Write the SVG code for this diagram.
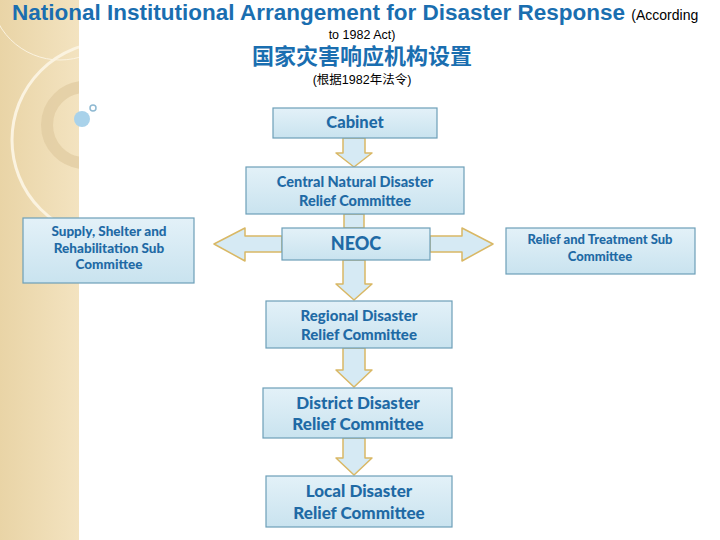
<svg xmlns="http://www.w3.org/2000/svg" width="720" height="540" viewBox="0 0 720 540">
<defs>
<linearGradient id="bx" x1="0" y1="0" x2="0" y2="1"><stop offset="0" stop-color="#e3f1f8"/><stop offset="1" stop-color="#c9e3ef"/></linearGradient>
<linearGradient id="side" x1="0" y1="0" x2="1" y2="0"><stop offset="0" stop-color="#e9d4a6"/><stop offset="1" stop-color="#f3e3c0"/></linearGradient>
<clipPath id="sc"><rect x="0" y="0" width="79" height="540"/></clipPath>
</defs>
<style>
.box{fill:url(#bx);stroke:#6d9fb8;stroke-width:1.2}
.arr{fill:#d6eaf4;stroke:#d9b865;stroke-width:1.5;stroke-linejoin:round}
.t{font-family:Lato,"Open Sans",sans-serif;font-weight:900;fill:#1f6aa5;text-anchor:middle}
</style>
<rect width="720" height="540" fill="#fff"/>
<rect x="0" y="0" width="79" height="540" fill="url(#side)"/>
<g clip-path="url(#sc)">
<circle cx="60" cy="-10" r="70" fill="none" stroke="#fbf3e0" stroke-width="1"/>
<circle cx="110" cy="140" r="98" fill="none" stroke="#fbf3e0" stroke-width="3"/>
<circle cx="85" cy="125" r="38" fill="none" stroke="#e0cba0" stroke-width="12" opacity="0.7"/>
</g>
<circle cx="82" cy="119" r="8" fill="#a9d2ea"/>
<circle cx="93" cy="108" r="3" fill="none" stroke="#8fb9d2" stroke-width="1.5"/>
<g id="title">
<text x="12" y="20" font-family="Liberation Sans,Arial,sans-serif" font-size="22.5" font-weight="bold" fill="#1a6eb0">National Institutional Arrangement for Disaster Response <tspan font-size="14" font-weight="normal" fill="#000">(According</tspan></text>
<text x="362" y="39" font-family="Liberation Sans,Arial,sans-serif" font-size="12.5" fill="#000" text-anchor="middle">to 1982 Act)</text>
<text x="362" y="64" font-family="'Noto Sans CJK SC',sans-serif" font-size="22" font-weight="bold" fill="#1a6eb0" text-anchor="middle">国家灾害响应机构设置</text>
<text x="362" y="84" font-family="Liberation Sans,'Noto Sans CJK SC',sans-serif" font-size="12.5" fill="#000" text-anchor="middle">(根据1982年法令)</text>
</g>
<g id="connectors">
<path class="arr" d="M343 138V153H336L354 167L372 153H365V138Z"/>
<path class="arr" d="M344 214V228H364V214Z"/>
<path class="arr" d="M282 236H245V228L214 244L245 261V252H282Z"/>
<path class="arr" d="M430 236H462V228L493 244L462 261V252H430Z"/>
<path class="arr" d="M343 260V284H336L354 300L372 284H365V260Z"/>
<path class="arr" d="M343 348V370H336L354 387L372 370H365V348Z"/>
<path class="arr" d="M343 438V458H336L354 475L372 458H365V438Z"/>
</g>
<g id="cabinet"><rect class="box" x="273" y="108" width="164" height="30"/><text class="t" x="355" y="128" font-size="16.5">Cabinet</text></g>
<g id="central"><rect class="box" x="246" y="167" width="218" height="47"/><text class="t" x="355" y="187" font-size="14.5">Central Natural Disaster</text><text class="t" x="355" y="206" font-size="14.5">Relief Committee</text></g>
<g id="neoc"><rect class="box" x="282" y="228" width="148" height="32"/><text class="t" x="356" y="250" font-size="18">NEOC</text></g>
<g id="supply"><rect class="box" x="23" y="218" width="171" height="65"/><text class="t" x="109" y="236" font-size="13.5">Supply, Shelter and</text><text class="t" x="109" y="253" font-size="13.5">Rehabilitation Sub</text><text class="t" x="109" y="269" font-size="13.5">Committee</text></g>
<g id="relief"><rect class="box" x="506" y="228" width="189" height="46"/><text class="t" x="600" y="244" font-size="13">Relief and Treatment Sub</text><text class="t" x="600" y="261" font-size="13">Committee</text></g>
<g id="regional"><rect class="box" x="266" y="301" width="186" height="47"/><text class="t" x="359" y="321" font-size="15">Regional Disaster</text><text class="t" x="359" y="340" font-size="15">Relief Committee</text></g>
<g id="district"><rect class="box" x="263" y="388" width="189" height="50"/><text class="t" x="358" y="409" font-size="17">District Disaster</text><text class="t" x="358" y="430" font-size="17">Relief Committee</text></g>
<g id="local"><rect class="box" x="266" y="476" width="186" height="51"/><text class="t" x="359" y="497" font-size="17">Local Disaster</text><text class="t" x="359" y="519" font-size="17">Relief Committee</text></g>
</svg>
